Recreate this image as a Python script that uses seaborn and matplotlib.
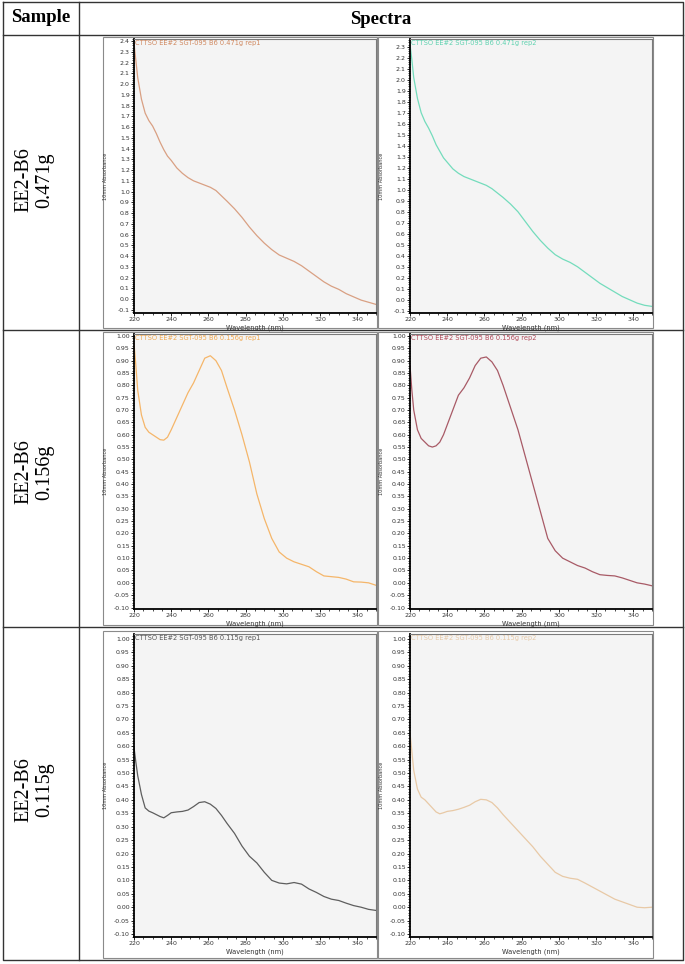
import matplotlib
matplotlib.use("Agg")
import matplotlib.pyplot as plt
from matplotlib.ticker import MultipleLocator, FormatStrFormatter
from matplotlib.patches import Rectangle
import seaborn as sns

# longitudes de onda comunes (nm)
wavelength = [220, 221, 222, 224, 226, 228, 230, 232, 234, 236, 238, 240, 243, 246,
              249, 252, 255, 258, 261, 264, 267, 270, 274, 278, 282, 286, 290, 294,
              298, 302, 306, 310, 314, 318, 322, 326, 330, 334, 338, 342, 346, 350]

# absorbancias
abs_471_rep1 = [2.38, 2.22, 2.06, 1.86, 1.73, 1.66, 1.61, 1.54, 1.46, 1.39, 1.33, 1.29, 1.22, 1.17,
                1.13, 1.10, 1.08, 1.06, 1.04, 1.01, 0.96, 0.91, 0.84, 0.76, 0.67, 0.59, 0.52, 0.46,
                0.41, 0.38, 0.35, 0.31, 0.26, 0.21, 0.16, 0.12, 0.09, 0.05, 0.02, -0.01, -0.03, -0.05]
abs_471_rep2 = [2.32, 2.18, 2.02, 1.83, 1.70, 1.62, 1.56, 1.49, 1.41, 1.35, 1.29, 1.25, 1.19, 1.15,
                1.12, 1.10, 1.08, 1.06, 1.04, 1.01, 0.97, 0.93, 0.87, 0.80, 0.71, 0.62, 0.54, 0.47,
                0.41, 0.37, 0.34, 0.30, 0.25, 0.20, 0.15, 0.11, 0.07, 0.03, 0.00, -0.03, -0.05, -0.06]
abs_156_rep1 = [0.97, 0.88, 0.78, 0.68, 0.63, 0.61, 0.60, 0.59, 0.58, 0.578, 0.59, 0.62, 0.67, 0.72,
                0.77, 0.81, 0.86, 0.91, 0.92, 0.90, 0.86, 0.79, 0.70, 0.60, 0.49, 0.36, 0.26, 0.18,
                0.125, 0.10, 0.085, 0.075, 0.065, 0.045, 0.028, 0.025, 0.022, 0.015, 0.004, 0.003, 0.0, -0.01]
abs_156_rep2 = [0.88, 0.78, 0.70, 0.62, 0.585, 0.57, 0.555, 0.55, 0.555, 0.57, 0.60, 0.64, 0.70, 0.76,
                0.79, 0.83, 0.88, 0.91, 0.915, 0.895, 0.86, 0.80, 0.71, 0.62, 0.51, 0.40, 0.29, 0.18,
                0.13, 0.10, 0.085, 0.07, 0.06, 0.045, 0.033, 0.03, 0.028, 0.02, 0.01, 0.0, -0.005, -0.012]
abs_115_rep1 = [0.596, 0.54, 0.49, 0.42, 0.37, 0.358, 0.352, 0.345, 0.338, 0.333, 0.342, 0.352, 0.355, 0.357,
                0.362, 0.375, 0.39, 0.393, 0.384, 0.368, 0.342, 0.312, 0.275, 0.228, 0.19, 0.165, 0.13, 0.10,
                0.09, 0.087, 0.092, 0.086, 0.068, 0.055, 0.04, 0.03, 0.025, 0.015, 0.006, 0.0, -0.008, -0.012]
abs_115_rep2 = [0.65, 0.58, 0.51, 0.44, 0.41, 0.40, 0.385, 0.37, 0.355, 0.348, 0.352, 0.357, 0.36, 0.365,
                0.372, 0.38, 0.393, 0.402, 0.40, 0.39, 0.37, 0.345, 0.315, 0.285, 0.255, 0.225, 0.19, 0.16,
                0.13, 0.115, 0.108, 0.104, 0.09, 0.075, 0.06, 0.045, 0.03, 0.02, 0.01, 0.0, -0.002, 0.0]

samples = ["EE2-B6\n0.471g", "EE2-B6\n0.156g", "EE2-B6\n0.115g"]
titles = [["CTTSO EE#2 SGT-095 B6 0.471g rep1", "CTTSO EE#2 SGT-095 B6 0.471g rep2"],
          ["CTTSO EE#2 SGT-095 B6 0.156g rep1", "CTTSO EE#2 SGT-095 B6 0.156g rep2"],
          ["CTTSO EE#2 SGT-095 B6 0.115g rep1", "CTTSO EE#2 SGT-095 B6 0.115g rep2"]]
series = [[abs_471_rep1, abs_471_rep2], [abs_156_rep1, abs_156_rep2], [abs_115_rep1, abs_115_rep2]]
colors = [["#d9a083", "#74dcbc"], ["#f5b66a", "#a85a66"], ["#5e5e5e", "#e8c9a6"]]
text_colors = [["#d0885f", "#5fd2b0"], ["#f0a850", "#b04858"], ["#555555", "#e6c9a8"]]
ylims = [[(-0.13, 2.42), (-0.12, 2.37)], [(-0.106, 1.008), (-0.106, 1.008)], [(-0.111, 1.018), (-0.111, 1.018)]]

W, H = 685, 964
fig = plt.figure(figsize=(W / 100, H / 100), dpi=100)

# capa de la tabla en pixeles
tab = fig.add_axes([0, 0, 1, 1])
tab.set_xlim(0, W)
tab.set_ylim(H, 0)
tab.axis("off")
lc = "#333333"
tab.plot([3, 683, 683, 3, 3], [2, 2, 960, 960, 2], color=lc, lw=1.0)
tab.plot([79, 79], [2, 960], color=lc, lw=1.0)
for yy in [35, 330, 627]:
    tab.plot([3, 683], [yy, yy], color=lc, lw=1.0)
tab.text(41, 18, "Sample", family="Liberation Serif", weight="bold", fontsize=13.5,
         ha="center", va="center")
tab.text(381, 20, "Spectra", family="Liberation Serif", weight="bold", fontsize=13.5,
         ha="center", va="center")
row_centers = [180, 472, 790]
for lab, yc in zip(samples, row_centers):
    tab.text(34, yc, lab, family="Liberation Serif", fontsize=14.5, rotation=90,
             ha="center", va="center", linespacing=1.15, multialignment="center")

# marcos de las capturas
frames_y = [(37, 328), (332, 625), (631, 958)]
frames_x = [(103, 377), (378, 653)]
for fy in frames_y:
    for fx in frames_x:
        tab.add_patch(Rectangle((fx[0], fy[0]), fx[1] - fx[0], fy[1] - fy[0],
                                fill=False, edgecolor="#8a8a8a", lw=0.8))

axes_y = [(39, 313), (334, 609), (634, 937)]
axes_x = [(134, 376), (410, 652)]

for r in range(3):
    for c in range(2):
        x0, x1 = axes_x[c]
        y0, y1 = axes_y[r]
        ax = fig.add_axes([x0 / W, 1 - y1 / H, (x1 - x0) / W, (y1 - y0) / H])
        ax.set_facecolor("#f4f4f4")
        sns.lineplot(x=wavelength, y=series[r][c], ax=ax, color=colors[r][c], lw=0.9)
        ax.set_xlim(220, 350)
        ax.set_ylim(*ylims[r][c])
        ax.xaxis.set_major_locator(MultipleLocator(20))
        ax.xaxis.set_minor_locator(MultipleLocator(5))
        if r == 0:
            ax.yaxis.set_major_locator(MultipleLocator(0.1))
            ax.yaxis.set_minor_locator(MultipleLocator(0.02))
            ax.yaxis.set_major_formatter(FormatStrFormatter("%.1f"))
        else:
            ax.yaxis.set_major_locator(MultipleLocator(0.05))
            ax.yaxis.set_minor_locator(MultipleLocator(0.01))
            ax.yaxis.set_major_formatter(FormatStrFormatter("%.2f"))
        ax.tick_params(which="major", length=2, width=0.6, labelsize=4.5, pad=1,
                       labelcolor="#333333", direction="out")
        ax.tick_params(which="minor", length=1.2, width=0.5, direction="out")
        for s in ["left", "bottom"]:
            ax.spines[s].set_color("black")
            ax.spines[s].set_linewidth(1.3)
        for s in ["top", "right"]:
            ax.spines[s].set_color("#7a7a7a")
            ax.spines[s].set_linewidth(0.8)
        ax.set_xlabel("Wavelength (nm)", fontsize=4.8, labelpad=2, color="#333333")
        ax.set_ylabel("10mm Absorbance", fontsize=3.6, color="#333333")
        ax.yaxis.set_label_coords(-0.108, 0.5)
        ax.text(0.006, 0.997, titles[r][c], transform=ax.transAxes, fontsize=4.8,
                color=text_colors[r][c], ha="left", va="top")

fig.savefig("out.png", dpi=100)
